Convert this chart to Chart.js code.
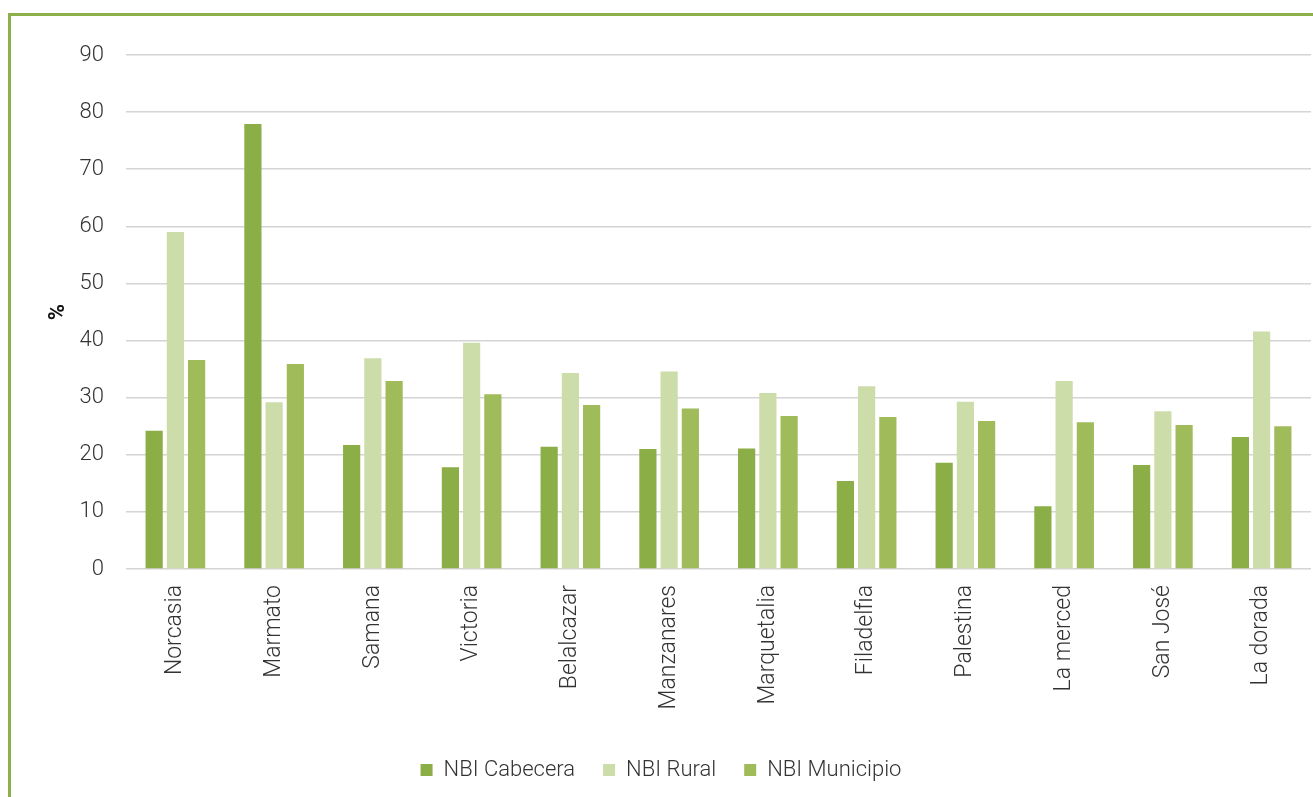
<!DOCTYPE html>
<html>
<head>
<meta charset="utf-8">
<script src="https://cdn.jsdelivr.net/npm/chart.js@4/dist/chart.umd.min.js"></script>
<style>
  html, body { margin: 0; padding: 0; background: #fff; }
  #frame {
    position: absolute; left: 8px; top: 13px; width: 1305px; height: 784px;
    border-top: 3px solid #8DB04B; border-left: 3px solid #8DB04B;
  }
  #wrap { position: absolute; left: 11px; top: 16px; width: 1302px; height: 781px; }
</style>
</head>
<body>
<div id="frame"></div>
<div id="wrap"><canvas id="nbiChart"></canvas></div>
<script>
// municipios
const municipios = ["Norcasia", "Marmato", "Samana", "Victoria", "Belalcazar", "Manzanares",
    "Marquetalia", "Filadelfia", "Palestina", "La merced", "San José", "La dorada"];

// NBI values (%)
const nbiCabecera = [24.2, 77.9, 21.7, 17.8, 21.4, 21.0, 21.1, 15.4, 18.6, 11.0, 18.2, 23.1];
const nbiRural = [59.0, 29.2, 36.9, 39.6, 34.3, 34.6, 30.8, 32.0, 29.3, 32.9, 27.6, 41.6];
const nbiMunicipio = [36.6, 35.9, 32.9, 30.6, 28.7, 28.1, 26.8, 26.6, 25.9, 25.7, 25.2, 25.0];

const yTicks = [0, 10, 20, 30, 40, 50, 60, 70, 80, 90];

Chart.defaults.font.family = "Roboto, 'Open Sans', sans-serif";
Chart.defaults.font.weight = 300;
Chart.defaults.color = "#333";

new Chart(document.getElementById("nbiChart"), {
    type: 'bar',
    data: {
        labels: municipios,
        datasets: [
            { label: "NBI Cabecera", data: nbiCabecera, backgroundColor: "#8BAE47" },
            { label: "NBI Rural", data: nbiRural, backgroundColor: "#CCDDA9" },
            { label: "NBI Municipio", data: nbiMunicipio, backgroundColor: "#A0BC5A" }
        ]
    },
    options: {
        responsive: true,
        maintainAspectRatio: false,
        animation: false,
        datasets: {
            bar: { barPercentage: 0.81, categoryPercentage: 0.645 }
        },
        layout: { padding: { top: 39, right: 2, bottom: 6 } },
        plugins: {
            legend: {
                display: true,
                position: 'bottom',
                labels: { boxWidth: 12, boxHeight: 12, font: { size: 22, weight: 300 }, padding: 28, color: "#333" }
            },
            tooltip: { enabled: false }
        },
        scales: {
            x: {
                grid: { display: false },
                border: { display: false },
                ticks: { minRotation: 90, maxRotation: 90, font: { size: 23, weight: 300 }, padding: 8, autoSkip: false },
                afterFit: (scale) => { scale.height = 162; }
            },
            y: {
                min: 0,
                max: 90,
                afterBuildTicks: (scale) => { scale.ticks = yTicks.map(v => ({ value: v })); },
                grid: { color: "#d4d4d4", lineWidth: 1.5, drawTicks: false },
                border: { display: false },
                ticks: { font: { size: 22, weight: 300 }, padding: 22 },
                title: { display: true, text: "%", font: { size: 22, weight: 'bold' }, color: "#111", padding: { top: 34, bottom: 0 } },
                afterFit: (scale) => { scale.width = 115; }
            }
        }
    }
});
</script>
</body>
</html>
